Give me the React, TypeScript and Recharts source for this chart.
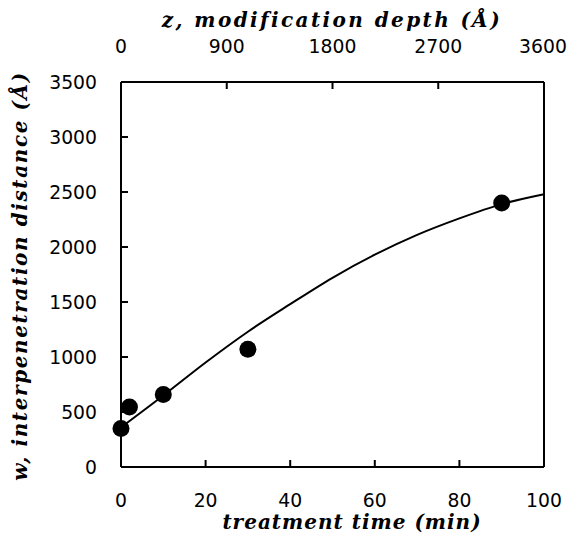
import React from "react";
import { ComposedChart, Line, Scatter, XAxis, YAxis } from "recharts";

// measured points: treatment time (min) vs interpenetration distance (Å)
const treatmentTime = [0, 2, 10, 30, 90];
const interpenetration = [350, 545, 660, 1070, 2400];

// fitted curve
const fitTime = [0, 10, 20, 30, 40, 50, 60, 70, 80, 90, 100];
const fitDistance = [360, 650, 950, 1230, 1480, 1720, 1930, 2110, 2260, 2390, 2480];

const timeTicks = [0, 20, 40, 60, 80, 100];
const depthTicks = [0, 900, 1800, 2700, 3600];
const distanceTicks = [0, 500, 1000, 1500, 2000, 2500, 3000, 3500];

const points = treatmentTime.map((t, i) => ({ t, w: interpenetration[i] }));
const curve = fitTime.map((t, i) => ({ t, w: fitDistance[i] }));

const tickFont = { fontFamily: "DejaVu Sans", fontSize: 18.8, fill: "#000" };
const titleStyle: React.CSSProperties = {
  position: "absolute",
  fontFamily: "'DejaVu Serif', serif",
  fontStyle: "italic",
  fontWeight: "bold",
  fontSize: 20,
  letterSpacing: 1,
  whiteSpace: "nowrap",
  color: "#000",
  lineHeight: "24px",
};

const TICK = 7;

const BottomTick = ({ x, y, payload }: any) => (
  <g>
    {payload.value > 0 && payload.value < 100 && (
      <line x1={x} x2={x} y1={y} y2={y - TICK} stroke="#000" strokeWidth={2} />
    )}
    <text x={x} y={y + 40} textAnchor="middle" {...tickFont}>
      {payload.value}
    </text>
  </g>
);

const TopTick = ({ x, y, payload }: any) => (
  <g>
    {payload.value > 0 && payload.value < 3600 && (
      <line x1={x} x2={x} y1={y} y2={y + TICK} stroke="#000" strokeWidth={2} />
    )}
    <text x={payload.value === 3600 ? x - 1 : x} y={y - 29} textAnchor="middle" {...tickFont}>
      {payload.value}
    </text>
  </g>
);

const LeftTick = ({ x, y, payload }: any) => (
  <g>
    {payload.value > 0 && payload.value < 3500 && (
      <line x1={x} x2={x + TICK} y1={y} y2={y} stroke="#000" strokeWidth={2} />
    )}
    <text x={x - 24} y={y + 7} textAnchor="end" {...tickFont}>
      {payload.value}
    </text>
  </g>
);

const RightTick = ({ x, y, payload }: any) =>
  payload.value > 0 && payload.value < 3500 ? (
    <line x1={x} x2={x - TICK} y1={y} y2={y} stroke="#000" strokeWidth={2} />
  ) : (
    <g />
  );

const Dot = (p: any) => <circle cx={p.cx} cy={p.cy} r={8.5} fill="#000" />;

export default function App() {
  const axisLine = { stroke: "#000", strokeWidth: 2 };
  return (
    <div style={{ position: "relative", width: 568, height: 535, background: "#fff" }}>
      <style>{"body{margin:0}"}</style>
      <ComposedChart width={568} height={535} margin={{ top: 0, right: 0, bottom: 0, left: 0 }}>
        <XAxis
          xAxisId="bottom"
          dataKey="t"
          type="number"
          domain={[0, 100]}
          ticks={timeTicks}
          height={68}
          tickSize={0}
          tickMargin={0}
          tickLine={false}
          axisLine={axisLine}
          tick={<BottomTick />}
          interval={0}
        />
        <XAxis
          xAxisId="top"
          dataKey="z"
          orientation="top"
          type="number"
          domain={[0, 3600]}
          ticks={depthTicks}
          height={82}
          tickSize={0}
          tickMargin={0}
          tickLine={false}
          axisLine={axisLine}
          tick={<TopTick />}
          interval={0}
          allowDataOverflow
        />
        <YAxis
          yAxisId="left"
          type="number"
          domain={[0, 3500]}
          ticks={distanceTicks}
          width={121}
          tickSize={0}
          tickMargin={0}
          tickLine={false}
          axisLine={axisLine}
          tick={<LeftTick />}
          interval={0}
        />
        <YAxis
          yAxisId="right"
          orientation="right"
          type="number"
          domain={[0, 3500]}
          ticks={distanceTicks}
          width={24}
          tickSize={0}
          tickMargin={0}
          tickLine={false}
          axisLine={axisLine}
          tick={<RightTick />}
          interval={0}
        />
        <Line
          xAxisId="top"
          yAxisId="right"
          data={[]}
          dataKey="w"
          stroke="none"
          dot={false}
          legendType="none"
          isAnimationActive={false}
        />
        <Line
          xAxisId="bottom"
          yAxisId="left"
          data={curve}
          dataKey="w"
          type="monotone"
          stroke="#000"
          strokeWidth={2}
          dot={false}
          isAnimationActive={false}
        />
        <Scatter
          xAxisId="bottom"
          yAxisId="left"
          data={points}
          dataKey="w"
          fill="#000"
          shape={<Dot />}
          isAnimationActive={false}
        />
      </ComposedChart>
      <div
        style={{
          ...titleStyle,
          letterSpacing: 2.4,
          left: 332,
          top: 20,
          transform: "translate(-50%, -50%)",
        }}
      >
        z, modification depth (Å)
      </div>
      <div
        style={{
          ...titleStyle,
          left: 352,
          top: 522,
          transform: "translate(-50%, -50%)",
        }}
      >
        treatment time (min)
      </div>
      <div
        style={{
          ...titleStyle,
          letterSpacing: 1.6,
          left: 20,
          top: 276,
          transform: "translate(-50%, -50%) rotate(-90deg)",
        }}
      >
        w, interpenetration distance (Å)
      </div>
    </div>
  );
}
